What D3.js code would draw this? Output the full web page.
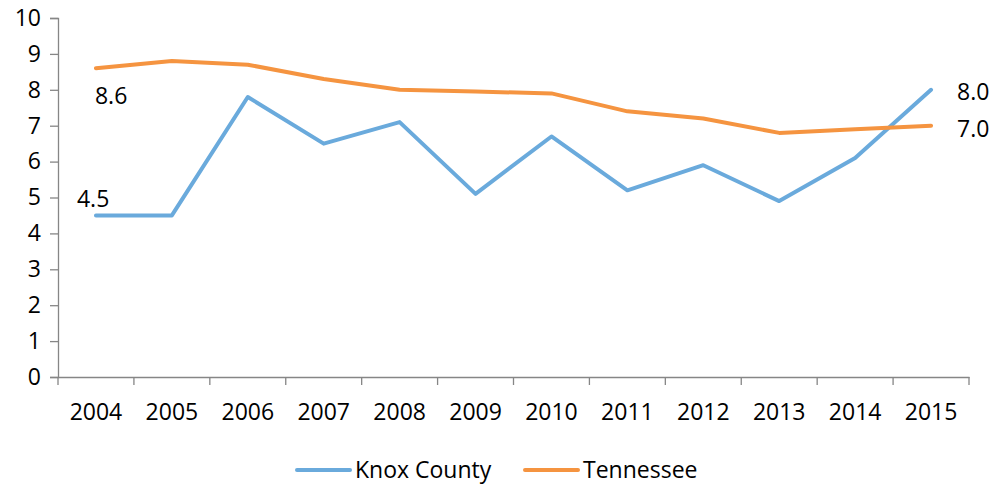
<!DOCTYPE html>
<html>
<head>
<meta charset="utf-8">
<script src="https://cdn.jsdelivr.net/npm/d3@7"></script>
<style>
    body { margin: 0; background: #fff; }
    text { font-family: "Open Sans", sans-serif; fill: #000; }
</style>
</head>
<body>
<div id="chart"></div>
<script>
    // Chart data
    const years = ["2004", "2005", "2006", "2007", "2008", "2009", "2010", "2011", "2012", "2013", "2014", "2015"];
    const knoxValues = [4.5, 4.5, 7.8, 6.5, 7.1, 5.1, 6.7, 5.2, 5.9, 4.9, 6.1, 8.0];
    const tennValues = [8.6, 8.8, 8.7, 8.3, 8.0, 7.95, 7.9, 7.4, 7.2, 6.8, 6.9, 7.0];
    const yTicks = [0, 1, 2, 3, 4, 5, 6, 7, 8, 9, 10];

    const series = [
        { name: "Knox County", values: knoxValues, color: "#6aaadc" },
        { name: "Tennessee", values: tennValues, color: "#f59440" }
    ];

    const width = 992, height = 485;
    const margin = { top: 18, right: 23, bottom: 108, left: 58 };

    const svg = d3.select("#chart").append("svg")
        .attr("width", width)
        .attr("height", height);

    const x = d3.scaleBand()
        .domain(years)
        .range([margin.left, width - margin.right]);

    const y = d3.scaleLinear()
        .domain([0, 10])
        .range([height - margin.bottom, margin.top]);

    // Y axis
    svg.append("g")
        .attr("transform", "translate(" + margin.left + ",0)")
        .call(d3.axisLeft(y).tickValues(yTicks).tickSize(8).tickPadding(9));

    // X axis, labels centred in each band
    const xAxis = svg.append("g")
        .attr("transform", "translate(0," + y(0) + ")")
        .call(d3.axisBottom(x).tickSize(0).tickPadding(27));

    // tick marks sit between the categories
    xAxis.selectAll("line.edge")
        .data(years.concat(["end"]))
        .enter().append("line")
        .attr("class", "edge")
        .attr("x1", function (d, i) { return margin.left + i * x.bandwidth(); })
        .attr("x2", function (d, i) { return margin.left + i * x.bandwidth(); })
        .attr("y1", 0)
        .attr("y2", 8);

    svg.selectAll(".domain, .tick line, line.edge")
        .attr("stroke", "#868686")
        .attr("stroke-width", 1.3);

    svg.selectAll(".tick text")
        .style("font-size", "23px")
        .style("font-family", "'Open Sans', sans-serif")
        .attr("fill", "#000");

    // Lines
    const line = d3.line()
        .x(function (d, i) { return x(years[i]) + x.bandwidth() / 2; })
        .y(function (d) { return y(d); });

    svg.selectAll("path.series")
        .data(series)
        .enter().append("path")
        .attr("class", "series")
        .attr("fill", "none")
        .attr("stroke", function (d) { return d.color; })
        .attr("stroke-width", 4)
        .attr("stroke-linejoin", "round")
        .attr("stroke-linecap", "round")
        .attr("d", function (d) { return line(d.values); });

    // Data labels for first and last points
    const last = years.length - 1;
    const cx = function (i) { return x(years[i]) + x.bandwidth() / 2; };
    const labels = [
        { text: knoxValues[0].toFixed(1), x: cx(0) - 19, y: y(knoxValues[0]) - 8 },
        { text: tennValues[0].toFixed(1), x: cx(0) - 1, y: y(tennValues[0]) + 36 },
        { text: knoxValues[last].toFixed(1), x: cx(last) + 26, y: y(knoxValues[last]) + 10 },
        { text: tennValues[last].toFixed(1), x: cx(last) + 26, y: y(tennValues[last]) + 11 }
    ];

    svg.selectAll("text.label")
        .data(labels)
        .enter().append("text")
        .attr("class", "label")
        .attr("x", function (d) { return d.x; })
        .attr("y", function (d) { return d.y; })
        .style("font-size", "23px")
        .text(function (d) { return d.text; });

    // Legend
    const legendX = [297, 525];
    const legend = svg.selectAll("g.legend")
        .data(series)
        .enter().append("g")
        .attr("class", "legend")
        .attr("transform", function (d, i) { return "translate(" + legendX[i] + ",470)"; });

    legend.append("line")
        .attr("x1", 0).attr("x2", 53)
        .attr("stroke", function (d) { return d.color; })
        .attr("stroke-width", 4)
        .attr("stroke-linecap", "round");

    legend.append("text")
        .attr("x", 58)
        .attr("y", 8)
        .style("font-size", "23px")
        .text(function (d) { return d.name; });
</script>
</body>
</html>
